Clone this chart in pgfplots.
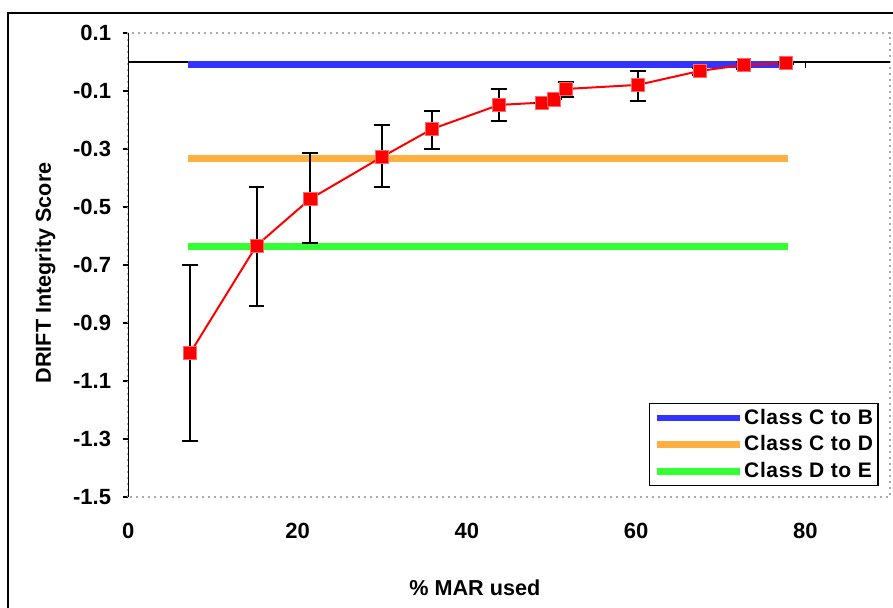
\documentclass[border=0pt]{standalone}
\usepackage{fontspec}
\setmainfont{Liberation Sans}
\newfontfamily\legfont{Liberation Sans}[LetterSpace=3]
\usepackage{pgfplots}
\pgfplotsset{compat=1.18}
\definecolor{bandblue}{RGB}{51,51,255}
\definecolor{bandorange}{RGB}{255,176,64}
\definecolor{bandgreen}{RGB}{51,255,51}
\definecolor{framegray}{RGB}{170,170,170}

\begin{document}
\begin{tikzpicture}
\useasboundingbox (-64.15pt,-55.5pt) rectangle (382.35pt,248.5pt);
\begin{scope}
  \clip (-64.15pt,-55.5pt) rectangle (382.35pt,248.5pt);
  \draw[line width=0.7pt] (-60.15pt,-80pt) rectangle (420pt,242pt);
\end{scope}
\begin{axis}[
    at={(0pt,0pt)}, anchor=south west,
    scale only axis,
    width=380.85pt, height=232pt,
    xmin=0, xmax=90,
    ymin=-1.5, ymax=0.1,
    xtick={0,20,40,60,80},
    ytick={-1.5,-1.3,-1.1,-0.9,-0.7,-0.5,-0.3,-0.1,0.1},
    ytick pos=left,
    axis line style={draw=none},
    tick align=outside,
    major tick length=2.6pt,
    xtick style={draw=none},
    ytick style={black, line width=0.6pt},
    /pgf/number format/assume math mode=true,
    ticklabel style={font=\bfseries\fontsize{11}{12}\selectfont},
    yticklabel style={/pgf/number format/.cd, fixed, fixed zerofill, precision=1, /tikz/.cd, xshift=-2.5pt},
    xticklabel style={yshift=-7pt},
    xlabel={\% MAR used},
    ylabel={DRIFT Integrity Score},
    every axis x label/.style={at={(axis description cs:0.455,-0.196)}, anchor=center,
        font=\bfseries\fontsize{10.8}{12}\selectfont},
    every axis y label/.style={at={(axis description cs:-0.109,0.483)}, anchor=center, rotate=90,
        font=\bfseries\fontsize{10.8}{12}\selectfont},
    legend style={at={(0.985,0.202)}, anchor=north east, draw=black, line width=0.6pt,
        font=\legfont\bfseries\fontsize{10.5}{12}\selectfont,
        inner xsep=2pt, inner ysep=1.5pt, row sep=2.2pt,
        nodes={inner xsep=0.5pt, inner ysep=1pt, anchor=west}},
    legend image code/.code={\draw[#1] (0pt,0pt) -- (41.5pt,0pt);},
    legend cell align=left,
    clip=false,
]
% plot frame and zero line
\draw[framegray, line width=1pt, dotted] (rel axis cs:0,0) rectangle (rel axis cs:1,1);
\draw[black, line width=0.7pt] (rel axis cs:0,0) -- (rel axis cs:0,1);
\draw[black, line width=0.6pt] (axis cs:0,0) -- (axis cs:90,0);
\draw[black, line width=0.6pt] (axis cs:20,0) -- ([yshift=-3pt]axis cs:20,0);
\draw[black, line width=0.6pt] (axis cs:40,0) -- ([yshift=-3pt]axis cs:40,0);
\draw[black, line width=0.6pt] (axis cs:60,0) -- ([yshift=-3pt]axis cs:60,0);
\draw[black, line width=0.6pt] (axis cs:80,0) -- ([yshift=-3pt]axis cs:80,0);

\addplot[bandblue, line width=3.3pt, no marks] coordinates {(7.05,-0.008) (77.5,-0.008)};
\addlegendentry{Class C to B}
\addplot[bandorange, line width=3.3pt, no marks] coordinates {(7.05,-0.332) (78.0,-0.332)};
\addlegendentry{Class C to D}
\addplot[bandgreen, line width=3.3pt, no marks] coordinates {(7.05,-0.636) (78.0,-0.636)};
\addlegendentry{Class D to E}

\addplot[red, line width=1pt, mark=square*, mark size=3.3pt,
    mark options={fill=red, draw=red!60!white, line width=0.3pt},
    error bars/.cd, y dir=both, y explicit,
    error bar style={black, line width=1pt},
    error mark options={rotate=90, mark size=3.9pt, black, line width=1pt},
    ] coordinates {
    (7.3,-1.004)   += (0,0.304) -= (0,0.304)
    (15.15,-0.633) += (0,0.201) -= (0,0.207)
    (21.5,-0.472)  += (0,0.157) -= (0,0.151)
    (30.0,-0.327)  += (0,0.110) -= (0,0.105)
    (35.9,-0.231)  += (0,0.062) -= (0,0.069)
    (43.8,-0.148)  += (0,0.055) -= (0,0.056)
    (48.9,-0.140)  += (0,0.0) -= (0,0.0)
    (50.3,-0.129)  += (0,0.0) -= (0,0.0)
    (51.7,-0.093)  += (0,0.025) -= (0,0.029)
    (60.2,-0.079)  += (0,0.048) -= (0,0.055)
    (67.5,-0.031)  += (0,0.012) -= (0,0.014)
    (72.7,-0.010)  += (0,0.010) -= (0,0.014)
    (77.7,-0.004)  += (0,0.004) -= (0,0.004)
};
\end{axis}
\end{tikzpicture}
\end{document}
